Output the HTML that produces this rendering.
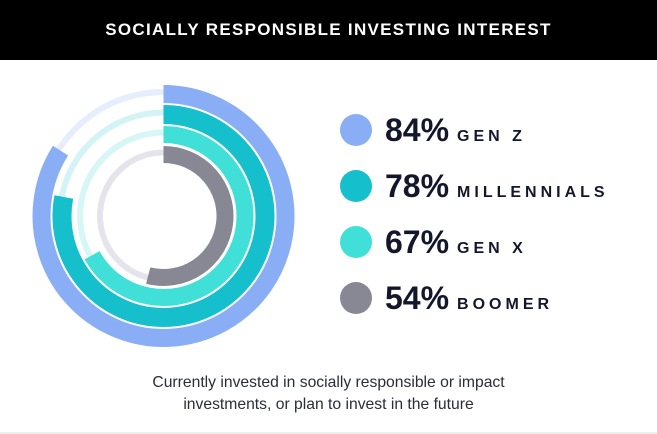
<!DOCTYPE html>
<html><head><meta charset="utf-8"><style>
html,body{margin:0;padding:0;background:#fff;}
body{width:657px;height:434px;position:relative;overflow:hidden;font-family:"Liberation Sans",sans-serif;}
#hdr{position:absolute;left:0;top:0;width:657px;height:60px;background:#000;color:#fff;font-weight:bold;font-size:17px;letter-spacing:1.3px;text-align:center;line-height:60px;}
#cap{position:absolute;left:0;width:657px;top:372px;text-align:center;font-size:15.7px;line-height:22px;color:#2a2d3a;}
#bl{position:absolute;left:0;top:432px;width:657px;height:2px;background:#eee;}
</style></head><body>
<div id="hdr">SOCIALLY RESPONSIBLE INVESTING INTEREST</div>
<svg id="chart" width="657" height="434" style="position:absolute;left:0;top:0"></svg>
<div id="cap">Currently invested in socially responsible or impact<br>investments, or plan to invest in the future</div>
<div id="bl"></div>
<script>
const categories=["GEN Z","MILLENNIALS","GEN X","BOOMER"];
const values=[84,78,67,54];
const colors=["#8aaef5","#15bfcb","#40e0d8","#878894"];
const trackColors=["#e6edfc","#d4f3f5","#d6f7f5","#e4e4ea"];
const NS="http://www.w3.org/2000/svg";
const svg=document.getElementById('chart');
const cx=163.5,cy=216;
const radii=[122,101.5,81.5,61.5], widths=[18,19,17,17];
function ang(v){return v/100*2*Math.PI;}
function pt(r,a){return [cx+r*Math.sin(a),cy-r*Math.cos(a)];}
function arc(r,v){const a=ang(v);const p0=pt(r,0),p1=pt(r,a);const large=a>Math.PI?1:0;return `M${p0[0]},${p0[1]} A${r},${r} 0 ${large} 1 ${p1[0]},${p1[1]}`;}
categories.forEach((c,i)=>{
  const t=document.createElementNS(NS,'circle');
  t.setAttribute('cx',cx);t.setAttribute('cy',cy);t.setAttribute('r',radii[i]+2);
  t.setAttribute('fill','none');t.setAttribute('stroke',trackColors[i]);t.setAttribute('stroke-width',6);
  
  
  svg.appendChild(t);
  const p=document.createElementNS(NS,'path');
  p.setAttribute('d',arc(radii[i],values[i]));
  p.setAttribute('fill','none');p.setAttribute('stroke',colors[i]);p.setAttribute('stroke-width',widths[i]);
  
  
  svg.appendChild(p);
  const y=130+i*56;
  const d=document.createElementNS(NS,'circle');
  d.setAttribute('cx',356);d.setAttribute('cy',y);d.setAttribute('r',16);d.setAttribute('fill',colors[i]);
  
  
  svg.appendChild(d);
  const tx=document.createElementNS(NS,'text');
  tx.setAttribute('x',385);tx.setAttribute('y',y+11);
  tx.setAttribute('font-family','Liberation Sans, sans-serif');tx.setAttribute('fill','#14172b');
  
  
  const s1=document.createElementNS(NS,'tspan');s1.setAttribute('font-size','32');s1.setAttribute('font-weight','bold');s1.textContent=values[i]+'%';
  const s2=document.createElementNS(NS,'tspan');s2.setAttribute('font-size','16');s2.setAttribute('font-weight','bold');s2.setAttribute('letter-spacing','4');s2.setAttribute('dx','8');s2.textContent=c;
  tx.appendChild(s1);tx.appendChild(s2);svg.appendChild(tx);
});
</script>
</body></html>
